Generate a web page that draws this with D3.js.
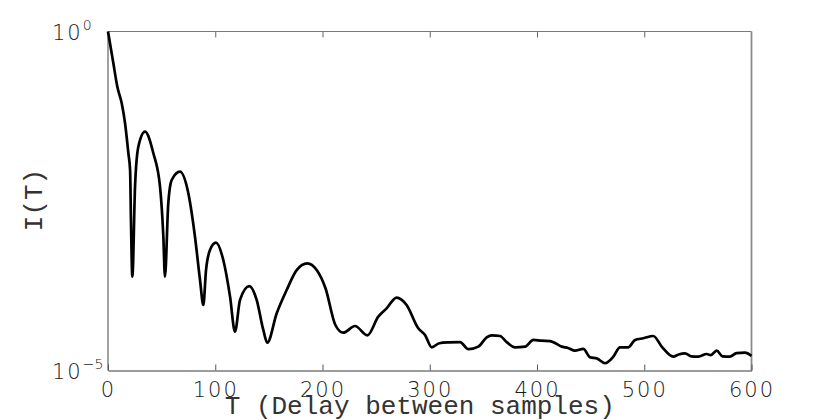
<!DOCTYPE html>
<html>
<head>
<meta charset="utf-8">
<script src="https://cdn.jsdelivr.net/npm/d3@7"></script>
<style>
  body { margin: 0; background: #fff; }
  svg { display: block; }
  .tick-num { font-family: "DejaVu Sans", sans-serif; font-weight: 200; font-size: 21px; letter-spacing: 2px; fill: #1a1a1a; }
  .axis-title { font-family: "Liberation Mono", monospace; font-size: 26px; fill: #333; }
</style>
</head>
<body>
<div id="chart"></div>
<script>
// delay T (samples)
var delays = [0, 5, 8.7, 12.8, 15.9, 19, 20.6, 21.4, 22.7, 25.2, 28.3, 34.5, 42.3, 48.5, 51.6, 53.1,
  56.2, 59.4, 67.1, 74.9, 81.1, 85.8, 88.9, 91.4, 95.1, 100.7, 107.5, 113.8, 118.4, 123.1, 131.7,
  138.6, 144.8, 148.5, 157.3, 166.6, 175.9, 185.8, 194.6, 202.8, 212, 219.4, 230.3, 241.8, 252,
  259.8, 269.1, 278.4, 289.3, 295.6, 301.8, 308.9, 318, 328.2, 336, 345.3, 353.1, 358, 365.5, 372,
  379.5, 388.8, 396.6, 404, 412.1, 423, 429, 435.4, 443.2, 449.4, 456, 463.4, 471.2, 477.4, 485.2,
  491.4, 499.2, 508.5, 516.3, 527.1, 532, 538, 544, 550.4, 558.2, 562, 567.5, 573, 579.9, 586, 593.9, 600];

// I(T) values
var intensity = [1, 0.34, 0.153, 0.0873, 0.0443, 0.016, 9.06e-3, 1.66e-3, 2.42e-4, 5.14e-3, 0.020, 0.0333,
  0.016, 5.14e-3, 9.4e-4, 2.42e-4,
  2.92e-3, 6.45e-3, 8.55e-3, 4.11e-3, 9.4e-4, 2.16e-4, 9.25e-5, 3.03e-4, 5.98e-4, 7.67e-4, 4.26e-4,
  1.23e-4, 3.73e-5, 1.10e-4, 1.76e-4,
  1.10e-4, 3.96e-5, 2.57e-5, 6.98e-5, 1.54e-4, 3.03e-4, 3.81e-4, 3.03e-4, 1.63e-4, 4.69e-5, 3.61e-5,
  4.53e-5, 3.30e-5, 6.22e-5,
  8.26e-5, 1.19e-4, 9.25e-5, 4.19e-5, 3.34e-5, 2.20e-5, 2.52e-5, 2.60e-5, 2.63e-5, 2.06e-5, 2.25e-5, 3.09e-5, 3.30e-5,
  3.23e-5, 2.60e-5, 2.20e-5, 2.25e-5,
  2.82e-5, 2.75e-5, 2.72e-5, 2.25e-5, 2.15e-5, 1.96e-5, 2.08e-5, 1.57e-5, 1.50e-5, 1.28e-5, 1.60e-5, 2.20e-5, 2.20e-5,
  2.82e-5, 2.99e-5, 3.23e-5, 2.25e-5,
  1.60e-5, 1.72e-5, 1.79e-5, 1.62e-5, 1.60e-5, 1.75e-5, 1.68e-5, 1.96e-5, 1.62e-5, 1.60e-5, 1.80e-5, 1.83e-5, 1.64e-5];

var xTicks = [0, 100, 200, 300, 400, 500, 600];
var yTicks = [1, 1e-5];
var yTickExp = ["0", "\u22125"];

var W = 830, H = 420;
var margin = { top: 31.5, right: 78.5, bottom: 49.5, left: 108 };
var w = W - margin.left - margin.right, h = H - margin.top - margin.bottom;

var svg = d3.select("#chart").append("svg").attr("width", W).attr("height", H);
var g = svg.append("g").attr("transform", "translate(" + margin.left + "," + margin.top + ")");

var x = d3.scaleLinear().domain([0, 600]).range([0, w]);
var y = d3.scaleLog().domain([1e-5, 1]).range([h, 0]);

// frame
g.append("line").attr("x1", 0).attr("x2", w).attr("y1", 0).attr("y2", 0).attr("stroke", "#7a7a7a").attr("stroke-width", 1.2);
g.append("line").attr("x1", 0).attr("x2", 0).attr("y1", 0).attr("y2", h).attr("stroke", "#7a7a7a").attr("stroke-width", 1.4);
g.append("line").attr("x1", w).attr("x2", w).attr("y1", 0).attr("y2", h).attr("stroke", "#8a8a8a").attr("stroke-width", 1.8);

// bottom axis
var xAxis = g.append("g").attr("transform", "translate(0," + h + ")")
  .call(d3.axisBottom(x).tickValues(xTicks).tickSizeInner(-6).tickSizeOuter(0).tickFormat(d3.format("d")));
xAxis.select(".domain").attr("stroke", "#3a3a3a").attr("stroke-width", 1.2);
xAxis.selectAll(".tick line").attr("stroke", "#555");
xAxis.selectAll(".tick text").attr("class", "tick-num").attr("y", 26).attr("dy", 0)
  .attr("font-family", null).attr("font-size", null).attr("fill", null);
xAxis.attr("font-family", null).attr("font-size", null);

// top ticks
g.append("g")
  .call(d3.axisTop(x).tickValues(xTicks.slice(1, -1)).tickSizeInner(-6).tickSizeOuter(0).tickFormat(""))
  .call(function(s) { s.select(".domain").remove(); s.selectAll(".tick line").attr("stroke", "#666"); });

// y tick labels
var yLab = g.selectAll(".ylab").data(yTicks).enter().append("text")
  .attr("class", "tick-num")
  .attr("x", -56)
  .attr("y", function(d) { return y(d) + 8; });
yLab.append("tspan").text("10");
yLab.append("tspan").attr("dy", -10).attr("font-size", 14).attr("letter-spacing", 0)
  .text(function(d, i) { return yTickExp[i]; });

// curve
var pts = delays.map(function(d, i) { return [d, intensity[i]]; });
var line = d3.line()
  .x(function(d) { return x(d[0]); })
  .y(function(d) { return y(d[1]); })
  .curve(d3.curveMonotoneX);

g.append("path").datum(pts)
  .attr("d", line)
  .attr("fill", "none")
  .attr("stroke", "#000")
  .attr("stroke-width", 2.7)
  .attr("stroke-linejoin", "round");

// titles
svg.append("text").attr("class", "axis-title")
  .attr("x", margin.left + w / 2 - 10).attr("y", 414)
  .attr("text-anchor", "middle")
  .text("T (Delay between samples)");

svg.append("text").attr("class", "axis-title")
  .attr("transform", "translate(42,200) rotate(-90)")
  .attr("text-anchor", "middle")
  .text("I(T)");
</script>
</body>
</html>
